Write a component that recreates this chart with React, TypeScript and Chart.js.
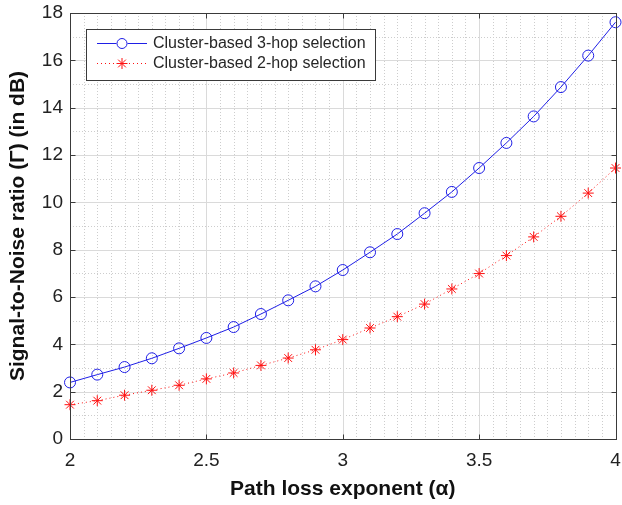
import React, { useEffect, useRef } from "react";
import { Chart, registerables } from "chart.js";

Chart.register(...registerables);

const alphaValues = [2.0, 2.1, 2.2, 2.3, 2.4, 2.5, 2.6, 2.7, 2.8, 2.9, 3.0, 3.1, 3.2, 3.3, 3.4, 3.5, 3.6, 3.7, 3.8, 3.9, 4.0];
const snr3hop = [2.39, 2.72, 3.04, 3.41, 3.83, 4.27, 4.73, 5.28, 5.86, 6.45, 7.14, 7.89, 8.66, 9.54, 10.44, 11.45, 12.51, 13.63, 14.87, 16.2, 17.61];
const snr2hop = [1.45, 1.62, 1.85, 2.06, 2.27, 2.54, 2.79, 3.11, 3.42, 3.77, 4.2, 4.69, 5.17, 5.7, 6.34, 6.99, 7.75, 8.54, 9.41, 10.39, 11.45];
const seriesLabels = ["Cluster-based 3-hop selection", "Cluster-based 2-hop selection"];
const xTitle = "Path loss exponent (\u03B1)";
const yTitle = "Signal-to-Noise ratio (\u0393) (in dB)";
const xMajorTicks = [2, 2.5, 3, 3.5, 4];
const yMajorTicks = [0, 2, 4, 6, 8, 10, 12, 14, 16, 18];
const xMinorStep = 0.05;
const yMinorStep = 1;

const FONT = "'Liberation Sans', Arial, Helvetica, sans-serif";
const BLUE = "#1f1fe6";
const RED = "#ff1010";

const gridPlugin = {
  id: "matlabGrid",
  beforeDatasetsDraw(chart: any) {
    const { ctx, chartArea } = chart;
    const xs = chart.scales.x;
    const ys = chart.scales.y;
    const { left, right, top, bottom } = chartArea;
    ctx.save();
    ctx.strokeStyle = "#cdcdcd";
    ctx.lineWidth = 1;
    ctx.setLineDash([1, 2]);
    const xMin = xs.min, xMax = xs.max;
    const nx = Math.round((xMax - xMin) / xMinorStep);
    for (let i = 1; i < nx; i++) {
      const v = xMin + i * xMinorStep;
      if (xMajorTicks.some((t) => Math.abs(t - v) < 1e-6)) continue;
      const px = Math.round(xs.getPixelForValue(v)) + 0.5;
      ctx.beginPath();
      ctx.moveTo(px, top);
      ctx.lineTo(px, bottom);
      ctx.stroke();
    }
    const ny = Math.round((ys.max - ys.min) / yMinorStep);
    for (let i = 1; i < ny; i++) {
      const v = ys.min + i * yMinorStep;
      if (yMajorTicks.some((t) => Math.abs(t - v) < 1e-6)) continue;
      const py = Math.round(ys.getPixelForValue(v)) + 0.5;
      ctx.beginPath();
      ctx.moveTo(left, py);
      ctx.lineTo(right, py);
      ctx.stroke();
    }
    ctx.setLineDash([]);
    ctx.strokeStyle = "#dadada";
    xMajorTicks.forEach((v) => {
      const px = Math.round(xs.getPixelForValue(v)) + 0.5;
      ctx.beginPath();
      ctx.moveTo(px, top);
      ctx.lineTo(px, bottom);
      ctx.stroke();
    });
    yMajorTicks.forEach((v) => {
      const py = Math.round(ys.getPixelForValue(v)) + 0.5;
      ctx.beginPath();
      ctx.moveTo(left, py);
      ctx.lineTo(right, py);
      ctx.stroke();
    });
    ctx.restore();
  },
  afterDatasetsDraw(chart: any) {
    const { ctx, chartArea } = chart;
    const xs = chart.scales.x;
    const ys = chart.scales.y;
    const l = Math.round(chartArea.left) + 0.5;
    const r = Math.round(chartArea.right) + 0.5;
    const t = Math.round(chartArea.top) + 0.5;
    const b = Math.round(chartArea.bottom) + 0.5;
    ctx.save();
    ctx.strokeStyle = "#3a3a3a";
    ctx.lineWidth = 1;
    ctx.strokeRect(l, t, r - l, b - t);
    const tl = 5;
    ctx.beginPath();
    xMajorTicks.forEach((v) => {
      const px = Math.round(xs.getPixelForValue(v)) + 0.5;
      ctx.moveTo(px, b);
      ctx.lineTo(px, b - tl);
      ctx.moveTo(px, t);
      ctx.lineTo(px, t + tl);
    });
    yMajorTicks.forEach((v) => {
      const py = Math.round(ys.getPixelForValue(v)) + 0.5;
      ctx.moveTo(l, py);
      ctx.lineTo(l + tl, py);
      ctx.moveTo(r, py);
      ctx.lineTo(r - tl, py);
    });
    ctx.stroke();

    // legend
    const bx = 86.5, by = 29.5, bw = 289, bh = 51;
    ctx.fillStyle = "#ffffff";
    ctx.fillRect(bx, by, bw, bh);
    ctx.strokeStyle = "#3a3a3a";
    ctx.strokeRect(bx, by, bw, bh);
    const rows = [43.5, 63.5];
    const x1 = 97, x2 = 147, mx = 122;
    ctx.strokeStyle = BLUE;
    ctx.beginPath();
    ctx.moveTo(x1, rows[0]);
    ctx.lineTo(mx - 5.5, rows[0]);
    ctx.moveTo(mx + 5.5, rows[0]);
    ctx.lineTo(x2, rows[0]);
    ctx.stroke();
    ctx.beginPath();
    ctx.arc(mx, rows[0], 5, 0, Math.PI * 2);
    ctx.stroke();
    ctx.strokeStyle = RED;
    ctx.setLineDash([1, 3]);
    ctx.beginPath();
    ctx.moveTo(x1, rows[1]);
    ctx.lineTo(x2, rows[1]);
    ctx.stroke();
    ctx.setLineDash([]);
    const rr = 5.5;
    ctx.beginPath();
    for (let k = 0; k < 4; k++) {
      const a = (k * Math.PI) / 4;
      ctx.moveTo(mx + rr * Math.cos(a), rows[1] + rr * Math.sin(a));
      ctx.lineTo(mx - rr * Math.cos(a), rows[1] - rr * Math.sin(a));
    }
    ctx.stroke();
    ctx.fillStyle = "#262626";
    ctx.font = `16px ${FONT}`;
    ctx.textBaseline = "middle";
    ctx.textAlign = "left";
    ctx.fillText(seriesLabels[0], 153, rows[0]);
    ctx.fillText(seriesLabels[1], 153, rows[1]);
    ctx.restore();
  },
};

export default function App() {
  const canvasRef = useRef<HTMLCanvasElement | null>(null);
  useEffect(() => {
    if (!canvasRef.current) return;
    const chart = new Chart(canvasRef.current, {
      type: "line",
      data: {
        datasets: [
          {
            label: seriesLabels[0],
            data: alphaValues.map((x, i) => ({ x, y: snr3hop[i] })),
            borderColor: BLUE,
            backgroundColor: "rgba(0,0,0,0)",
            borderWidth: 1,
            pointStyle: "circle",
            pointRadius: 5.5,
            pointBorderWidth: 1,
            pointBorderColor: BLUE,
            pointBackgroundColor: "rgba(0,0,0,0)",
            tension: 0,
            clip: false as any,
          },
          {
            label: seriesLabels[1],
            data: alphaValues.map((x, i) => ({ x, y: snr2hop[i] })),
            borderColor: RED,
            backgroundColor: "rgba(0,0,0,0)",
            borderWidth: 1,
            borderDash: [1, 3],
            pointStyle: "star",
            pointRadius: 5.5,
            pointBorderWidth: 1,
            pointBorderColor: RED,
            pointBackgroundColor: RED,
            tension: 0,
            clip: false as any,
          },
        ],
      },
      options: {
        animation: false,
        responsive: false,
        layout: { padding: { top: 13, right: 6, left: 0, bottom: 0 } },
        plugins: { legend: { display: false }, tooltip: { enabled: false } },
        scales: {
          x: {
            type: "linear",
            min: 2,
            max: 4,
            grid: { display: false, drawTicks: false },
            border: { display: false },
            afterBuildTicks: (s: any) => {
              s.ticks = xMajorTicks.map((v) => ({ value: v }));
            },
            afterFit: (s: any) => {
              s.height = 66;
              s.paddingLeft = 0;
              s.paddingRight = 0;
            },
            ticks: {
              padding: 10,
              color: "#222",
              font: { family: FONT, size: 19 },
              maxRotation: 0,
              callback: (v: any) => String(v),
            },
            title: {
              display: true,
              text: xTitle,
              color: "#111",
              font: { family: FONT, size: 21, weight: "bold" },
              padding: { top: 0, bottom: 3.5 },
            },
          },
          y: {
            type: "linear",
            min: 0,
            max: 18,
            grid: { display: false, drawTicks: false },
            border: { display: false },
            afterBuildTicks: (s: any) => {
              s.ticks = yMajorTicks.map((v) => ({ value: v }));
            },
            afterFit: (s: any) => {
              s.width = 70;
              s.paddingTop = 0;
              s.paddingBottom = 0;
            },
            ticks: {
              padding: 7,
              color: "#222",
              font: { family: FONT, size: 19 },
              callback: (v: any) => String(v),
            },
            title: {
              display: true,
              text: yTitle,
              color: "#111",
              font: { family: FONT, size: 21, weight: "bold" },
              padding: { top: 6, bottom: 0 },
            },
          },
        },
      },
      plugins: [gridPlugin],
    });
    return () => chart.destroy();
  }, []);
  return (
    <div style={{ position: "absolute", left: 0, top: 0, width: 622, height: 505, background: "#fff" }}>
      <canvas ref={canvasRef} width={622} height={505} style={{ display: "block" }} />
    </div>
  );
}
